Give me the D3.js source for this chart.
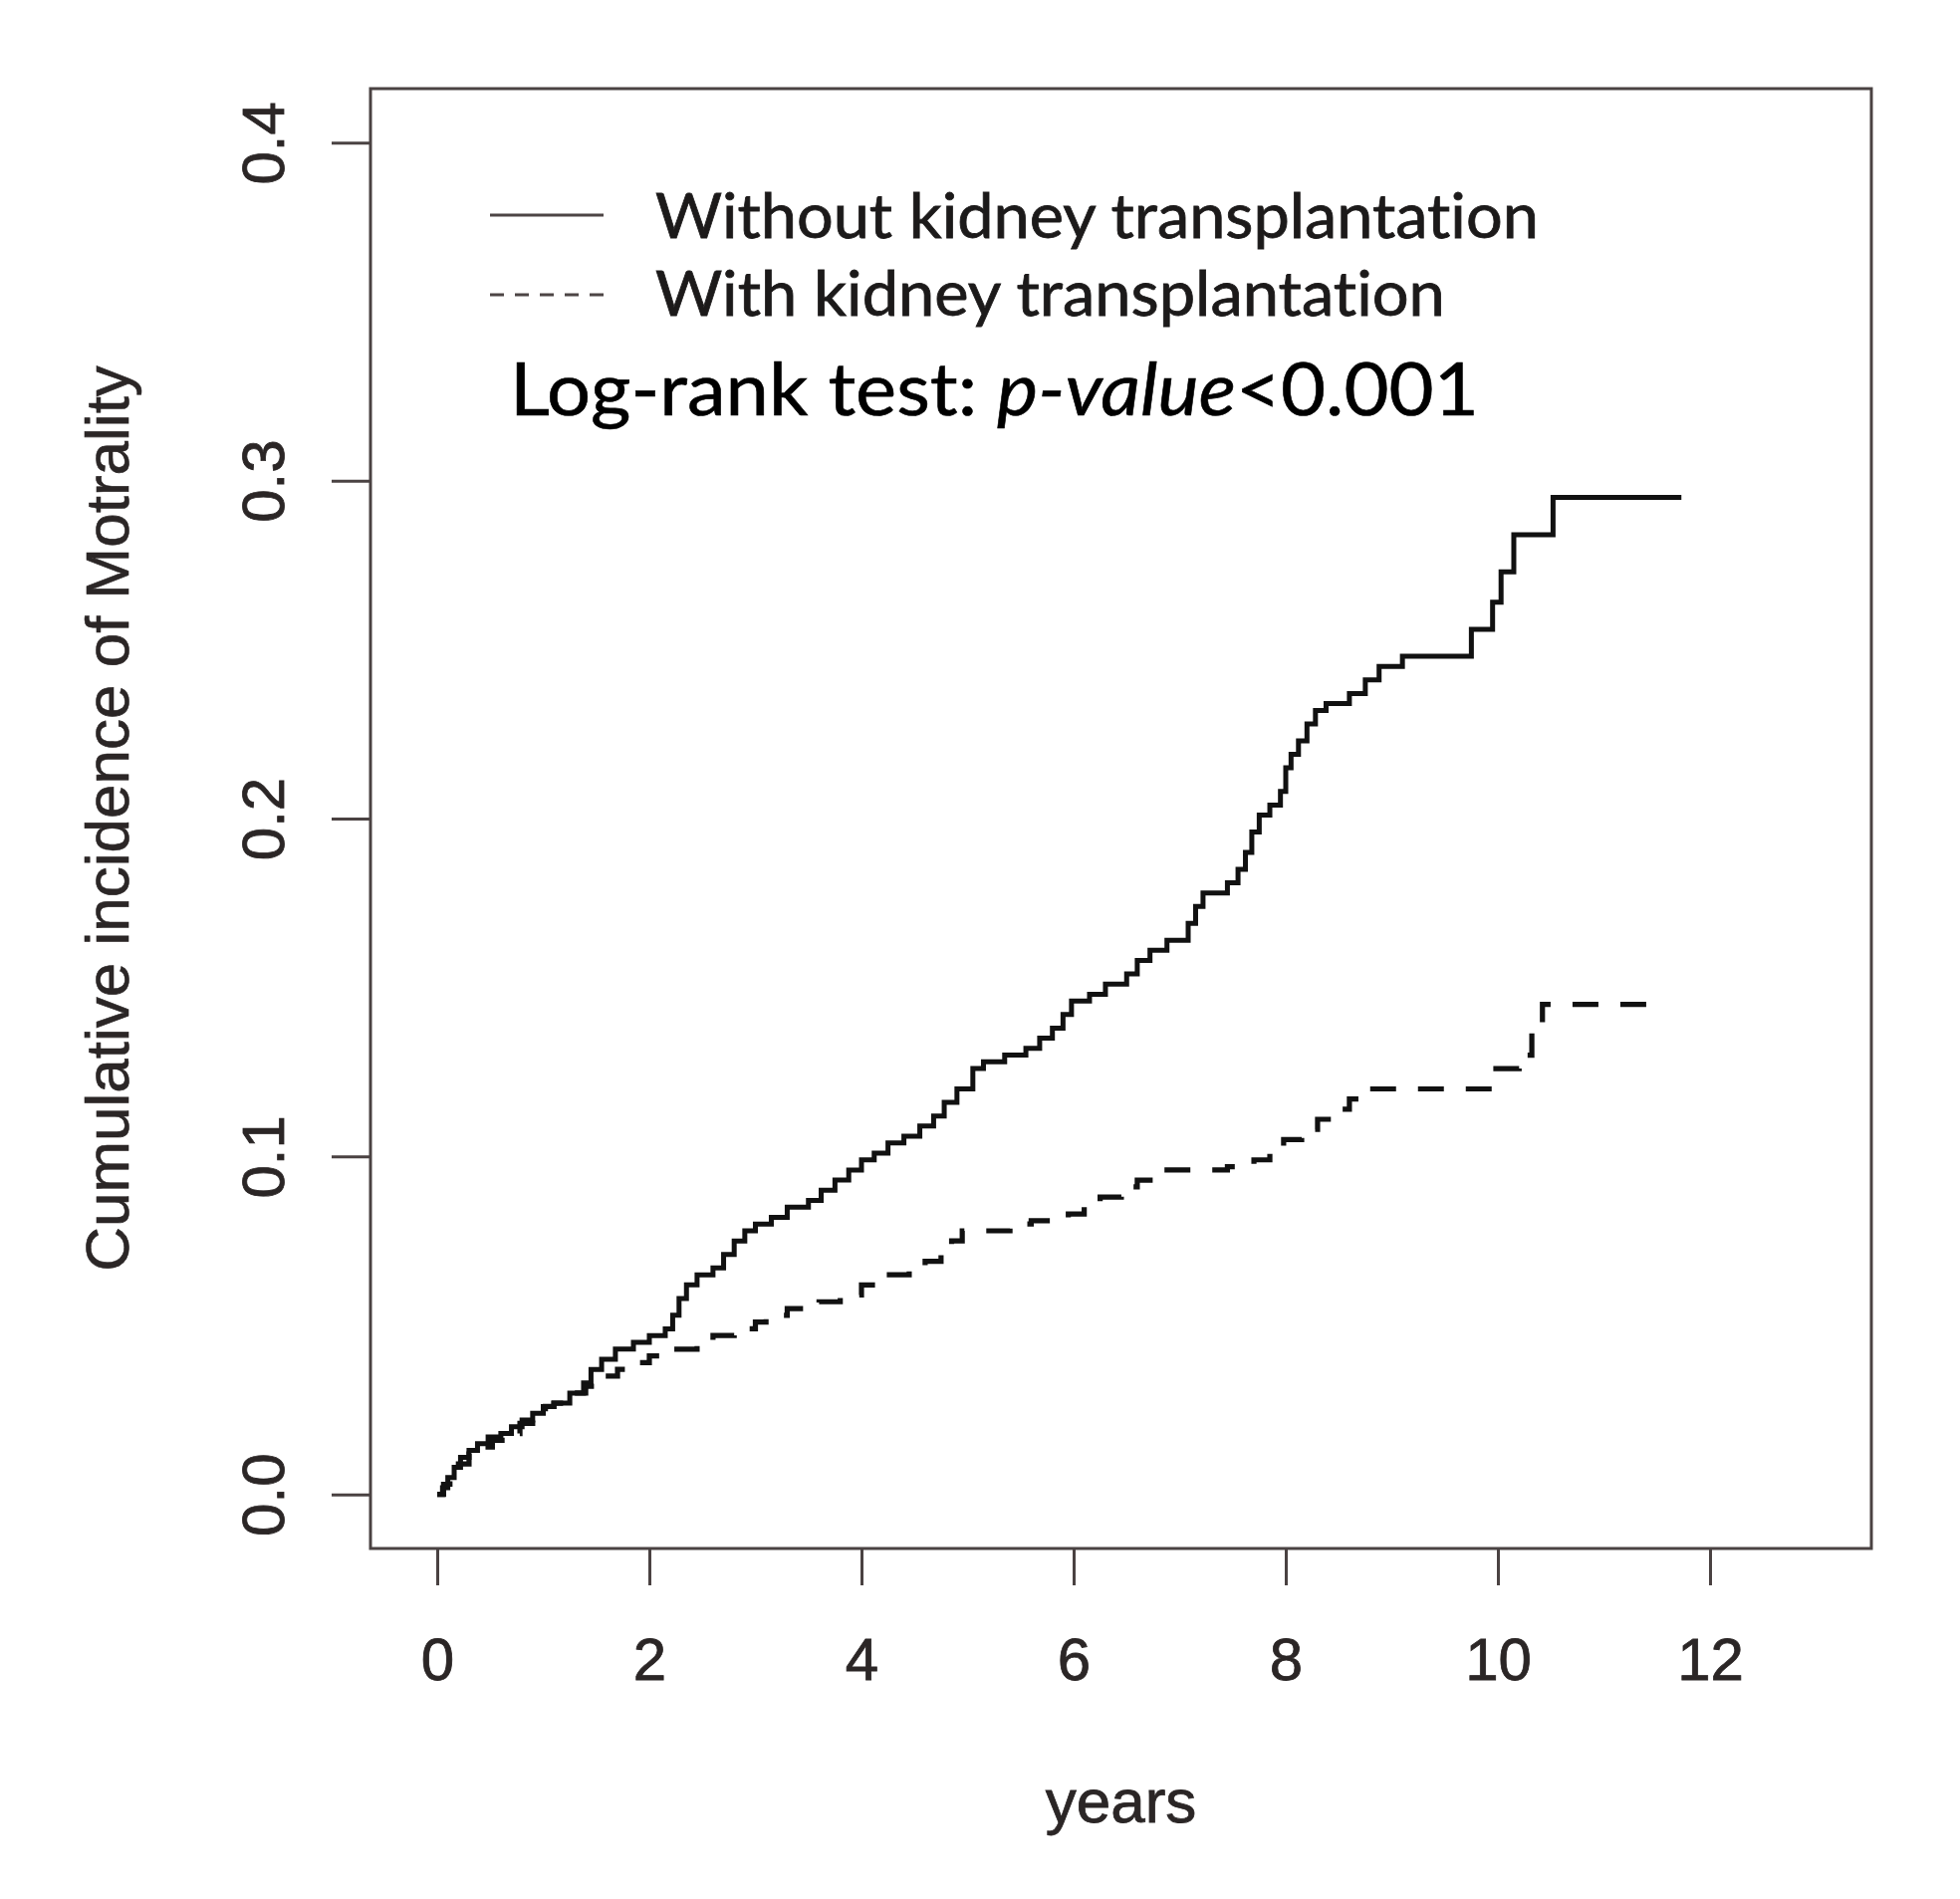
<!DOCTYPE html>
<html>
<head>
<meta charset="utf-8">
<script src="https://cdn.jsdelivr.net/npm/d3@7"></script>
<style>
  html, body { margin: 0; padding: 0; background: #fff; }
  svg { display: block; }
  text { font-variant-ligatures: none; }
</style>
</head>
<body>
<div id="chart"></div>
<script>
// --- data (years, cumulative incidence) ---
const timeWithout = [0, 0.05, 0.10, 0.16, 0.22, 0.30, 0.38, 0.48, 0.60, 0.70, 0.80, 0.90, 1.00, 1.10,
  1.25, 1.38, 1.45, 1.55, 1.68, 1.85, 2.00, 2.15, 2.22, 2.28, 2.35, 2.45, 2.60, 2.70, 2.80, 2.90,
  3.00, 3.15, 3.30, 3.50, 3.62, 3.75, 3.88, 4.00, 4.12, 4.25, 4.40, 4.55, 4.68, 4.78, 4.90, 5.05,
  5.15, 5.35, 5.55, 5.68, 5.80, 5.90, 5.98, 6.15, 6.30, 6.50, 6.60, 6.72, 6.88, 7.08, 7.15, 7.22,
  7.45, 7.55, 7.62, 7.68, 7.75, 7.85, 7.95, 8.00, 8.05, 8.12, 8.20, 8.28, 8.38, 8.60, 8.75, 8.88,
  9.10, 9.75, 9.95, 10.03, 10.15, 10.52, 11.73];
const incWithout = [0, 0.002, 0.005, 0.008, 0.011, 0.013, 0.015, 0.017, 0.018, 0.020, 0.022, 0.024, 0.026, 0.027,
  0.030, 0.033, 0.037, 0.040, 0.043, 0.045, 0.047, 0.049, 0.053, 0.058, 0.062, 0.065, 0.067, 0.071, 0.075, 0.078,
  0.080, 0.082, 0.085, 0.087, 0.090, 0.093, 0.096, 0.099, 0.101, 0.104, 0.106, 0.109, 0.112, 0.116, 0.120, 0.126,
  0.128, 0.130, 0.132, 0.135, 0.138, 0.142, 0.146, 0.148, 0.151, 0.154, 0.158, 0.161, 0.164, 0.169, 0.174, 0.178,
  0.181, 0.185, 0.190, 0.196, 0.201, 0.204, 0.208, 0.215, 0.219, 0.223, 0.228, 0.232, 0.234, 0.237, 0.241, 0.245,
  0.248, 0.256, 0.264, 0.273, 0.284, 0.295, 0.295];

const timeWith = [0, 0.06, 0.12, 0.20, 0.30, 0.40, 0.52, 0.65, 0.78, 0.90, 1.02, 1.10, 1.25, 1.40,
  1.55, 1.70, 1.85, 2.00, 2.20, 2.45, 2.60, 2.80, 3.00, 3.10, 3.30, 3.60, 3.80, 4.00, 4.15, 4.45,
  4.60, 4.75, 4.85, 4.95, 5.40, 5.60, 5.95, 6.10, 6.25, 6.45, 6.60, 6.75, 7.45, 7.70, 7.85, 7.98,
  8.15, 8.30, 8.45, 8.60, 8.78, 9.95, 10.20, 10.32, 10.42, 11.60];
const incWith = [0, 0.003, 0.006, 0.009, 0.012, 0.014, 0.016, 0.018, 0.021, 0.023, 0.026, 0.027, 0.030, 0.032,
  0.035, 0.037, 0.039, 0.041, 0.043, 0.045, 0.047, 0.049, 0.051, 0.053, 0.055, 0.057, 0.059, 0.062, 0.065, 0.067,
  0.069, 0.072, 0.075, 0.078, 0.080, 0.081, 0.083, 0.085, 0.088, 0.091, 0.093, 0.096, 0.097, 0.099, 0.102, 0.105,
  0.108, 0.111, 0.114, 0.117, 0.120, 0.126, 0.130, 0.137, 0.145, 0.145];

const xTicks = [0, 2, 4, 6, 8, 10, 12];
const yTicks = [0.0, 0.1, 0.2, 0.3, 0.4];
const legendLabels = ["Without kidney transplantation", "With kidney transplantation"];
const xLabel = "years";
const yLabel = "Cumulative incidence of Motrality";

// --- layout ---
const width = 1968, height = 1907;
const box = { left: 372, right: 1879, top: 89, bottom: 1555 };
const ink = "#2b2626";
const frame = "#4a4242";
const rFont = "'Liberation Sans', Arial, sans-serif";

const svg = d3.select("#chart").append("svg")
  .attr("width", width)
  .attr("height", height);

svg.append("rect").attr("width", width).attr("height", height).attr("fill", "#fff");

// R style scales: axis range padded 4% on each side
const x = d3.scaleLinear().domain([-0.629, 13.521]).range([box.left, box.right]);
const y = d3.scaleLinear().domain([-0.016, 0.416]).range([box.bottom, box.top]);

// plot frame
svg.append("rect")
  .attr("x", box.left).attr("y", box.top)
  .attr("width", box.right - box.left).attr("height", box.bottom - box.top)
  .attr("fill", "none").attr("stroke", frame).attr("stroke-width", 3);

// x axis
const xAxis = svg.append("g")
  .attr("transform", `translate(0,${box.bottom})`)
  .call(d3.axisBottom(x).tickValues(xTicks).tickSize(37).tickFormat(d3.format("d")));
xAxis.select(".domain").remove();
xAxis.selectAll("line").attr("stroke", frame).attr("stroke-width", 3);
xAxis.selectAll("text")
  .attr("y", 132).attr("dy", 0)
  .attr("fill", ink).attr("stroke", ink).attr("stroke-width", 0.8)
  .style("font-family", rFont)
  .style("font-size", "60px");

// y axis, labels parallel to the axis as in base R
const yAxis = svg.append("g")
  .attr("transform", `translate(${box.left},0)`)
  .call(d3.axisLeft(y).tickValues(yTicks).tickSize(39).tickFormat(d3.format(".1f")));
yAxis.select(".domain").remove();
yAxis.selectAll("line").attr("stroke", frame).attr("stroke-width", 3);
yAxis.selectAll("text")
  .attr("transform", "rotate(-90)")
  .attr("x", 0).attr("y", -87).attr("dy", 0)
  .attr("text-anchor", "middle")
  .attr("fill", ink).attr("stroke", ink).attr("stroke-width", 0.8)
  .style("font-family", rFont)
  .style("font-size", "60px");

// axis titles
svg.append("text")
  .attr("x", (box.left + box.right) / 2).attr("y", 1830)
  .attr("text-anchor", "middle")
  .attr("fill", ink).attr("stroke", ink).attr("stroke-width", 0.8)
  .style("font-family", rFont)
  .style("font-size", "62px")
  .text(xLabel);

svg.append("text")
  .attr("transform", `translate(129,${(box.top + box.bottom) / 2}) rotate(-90)`)
  .attr("text-anchor", "middle")
  .attr("fill", ink).attr("stroke", ink).attr("stroke-width", 0.6)
  .style("font-family", rFont)
  .style("font-size", "62px")
  .text(yLabel);

// curves
const line = d3.line()
  .x(d => x(d[0]))
  .y(d => y(d[1]))
  .curve(d3.curveStepAfter);

const seriesWithout = timeWithout.map((t, i) => [t, incWithout[i]]);
const seriesWith = timeWith.map((t, i) => [t, incWith[i]]);

svg.append("path")
  .datum(seriesWithout)
  .attr("d", line)
  .attr("fill", "none").attr("stroke", "#111").attr("stroke-width", 5)
  .attr("stroke-linejoin", "miter");

svg.append("path")
  .datum(seriesWith)
  .attr("d", line)
  .attr("fill", "none").attr("stroke", "#111").attr("stroke-width", 5.2)
  .attr("stroke-dasharray", "26,22")
  .attr("stroke-linejoin", "miter");

// legend (pasted-in text block in the original)
const legendFont = "Lato, 'Open Sans', sans-serif";

// fit a text element to a given left/right span by scaling horizontally
function fitWidth(sel, x0, x1, baseline) {
  const w = sel.node().getBBox().width;
  const sx = (x1 - x0) / w;
  sel.attr("x", 0).attr("y", 0)
    .attr("transform", `translate(${x0},${baseline}) scale(${sx},1)`);
}

const legendRows = [
  { label: legendLabels[0], dash: null, lineY: 216, baseline: 239, right: 1545 },
  { label: legendLabels[1], dash: "14,11", lineY: 296, baseline: 317, right: 1451 }
];

legendRows.forEach(r => {
  svg.append("line")
    .attr("x1", 492).attr("x2", 606)
    .attr("y1", r.lineY).attr("y2", r.lineY)
    .attr("stroke", "#4d4545").attr("stroke-width", 3)
    .attr("stroke-dasharray", r.dash);
  const t = svg.append("text")
    .attr("fill", "#1c1a1a").attr("stroke", "#1c1a1a").attr("stroke-width", 0.8)
    .style("font-family", legendFont)
    .style("font-size", "61px")
    .text(r.label);
  fitWidth(t, 658, r.right, r.baseline);
});

const pText = svg.append("text")
  .attr("fill", "#000").attr("stroke", "#000").attr("stroke-width", 0.6)
  .style("font-family", legendFont)
  .style("font-size", "74px");
pText.append("tspan").text("Log-rank test: ");
pText.append("tspan").style("font-style", "italic").text("p-value");
pText.append("tspan").text("<0.001");
fitWidth(pText, 512, 1485, 417);
</script>
</body>
</html>
